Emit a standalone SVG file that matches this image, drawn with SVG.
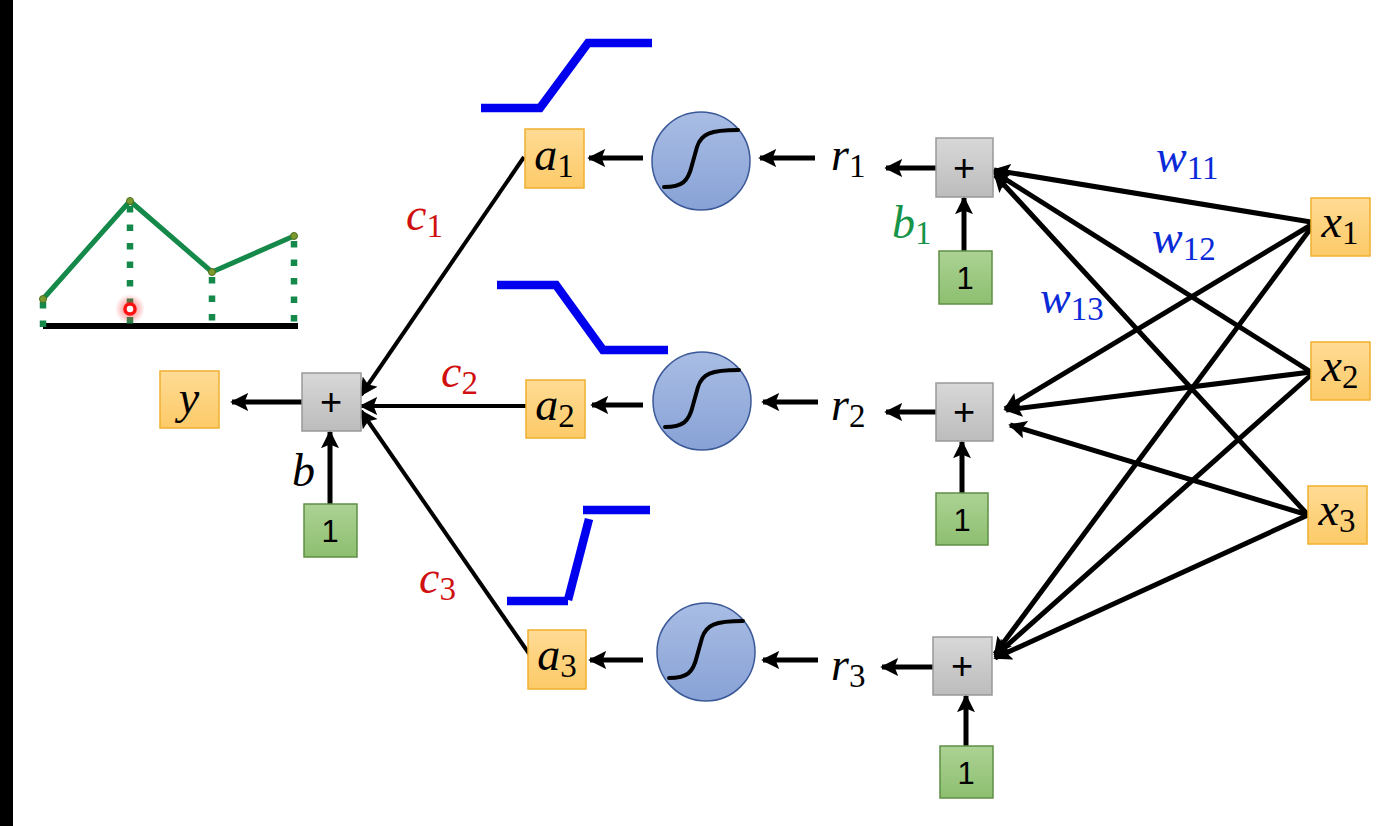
<svg xmlns="http://www.w3.org/2000/svg" width="1383" height="826" viewBox="0 0 1383 826">
<defs>
<linearGradient id="gOr" x1="0" y1="0" x2="0" y2="1"><stop offset="0" stop-color="#ffdb94"/><stop offset="1" stop-color="#fcca68"/></linearGradient>
<linearGradient id="gGr" x1="0" y1="0" x2="0" y2="1"><stop offset="0" stop-color="#d8d8d8"/><stop offset="1" stop-color="#bcbcbc"/></linearGradient>
<linearGradient id="gGn" x1="0" y1="0" x2="0" y2="1"><stop offset="0" stop-color="#acd294"/><stop offset="1" stop-color="#8dbf70"/></linearGradient>
<linearGradient id="gBl" x1="0" y1="0" x2="0" y2="1"><stop offset="0" stop-color="#a9bde4"/><stop offset="1" stop-color="#88a2d6"/></linearGradient>
<radialGradient id="glow"><stop offset="0" stop-color="#ff2020" stop-opacity="0.7"/><stop offset="1" stop-color="#ff4040" stop-opacity="0"/></radialGradient>
<marker id="ah" viewBox="0 0 10 10" refX="9" refY="5" markerWidth="18" markerHeight="18" markerUnits="userSpaceOnUse" orient="auto"><path d="M0,0 L10,5 L0,10 L2,5 z" fill="#000"/></marker>
</defs>
<style>
.or{fill:url(#gOr);stroke:#f0b030;stroke-width:1.5}
.gr{fill:url(#gGr);stroke:#999;stroke-width:1.5}
.gn{fill:url(#gGn);stroke:#5f8f45;stroke-width:1.5}
.ci{fill:url(#gBl);stroke:#3b5998;stroke-width:1.5}
.sig{fill:none;stroke:#000;stroke-width:4;stroke-linecap:round}
.var{font-family:"Liberation Serif",serif;font-style:italic;font-size:46px;fill:#000}
.sub{font-style:normal;font-size:33px}
.sym{font-family:"Liberation Sans",Arial,sans-serif;font-size:31px;fill:#000}
.plus{font-family:"Liberation Sans",Arial,sans-serif;font-size:38px;fill:#000}
.ar{stroke:#000;stroke-width:5;fill:none;marker-end:url(#ah)}
.ln{stroke:#000;stroke-width:5;fill:none;marker-end:url(#ah)}
.step{stroke:#0000ee;stroke-width:8.5;fill:none}
.gline{stroke:#14894a;stroke-width:5;fill:none;stroke-linejoin:round}
.gdash{stroke:#14894a;stroke-width:6.5;stroke-dasharray:6.5 12;fill:none}
</style>
<rect x="0" y="0" width="1383" height="826" fill="#fff"/>
<rect x="0" y="0" width="13" height="826" fill="#000"/>

<g id="chart">
<line x1="43" y1="326" x2="298" y2="326" stroke="#000" stroke-width="6"/>
<line class="gdash" x1="43" y1="302" x2="43" y2="328"/>
<line class="gdash" x1="130" y1="206" x2="130" y2="328"/>
<line class="gdash" x1="212" y1="277" x2="212" y2="328"/>
<line class="gdash" x1="294" y1="241" x2="294" y2="328"/>
<polyline class="gline" points="43,299 130,201 212,272 294,236"/>
<g fill="#7a9a30" stroke="#4e6e20" stroke-width="1"><circle cx="43" cy="299" r="3.5"/><circle cx="130" cy="201" r="3.5"/><circle cx="212" cy="272" r="3.5"/><circle cx="294" cy="236" r="3.5"/></g>
<circle cx="130" cy="309" r="15" fill="url(#glow)"/>
<circle cx="130" cy="309" r="5" fill="#fff" stroke="#ff1010" stroke-width="3.5"/>
</g>

<g id="steps">
<polyline class="step" points="481,108 540,108 588,43 652,43"/>
<polyline class="step" points="497,285 556,285 603,350 668,350"/>
<polyline class="step" points="507,601 568,601"/>
<line class="step" x1="568" y1="600" x2="589" y2="519"/>
<line class="step" x1="583" y1="510" x2="650" y2="510"/>
</g>

<g id="connectors">
<line class="ar" x1="302" y1="402" x2="232" y2="402"/>
<line class="ar" x1="330" y1="504" x2="330" y2="432"/>
<line class="ln" x1="524" y1="157" x2="361" y2="395" style="stroke-width:4"/>
<line class="ln" x1="526" y1="406" x2="361" y2="406" style="stroke-width:4"/>
<line class="ln" x1="530" y1="655" x2="361" y2="411" style="stroke-width:4"/>
<line class="ar" x1="643" y1="158" x2="589" y2="158"/>
<line class="ar" x1="643" y1="405" x2="592" y2="405"/>
<line class="ar" x1="643" y1="660" x2="590" y2="660"/>
<line class="ar" x1="815" y1="158" x2="760" y2="158"/>
<line class="ar" x1="818" y1="402" x2="763" y2="402"/>
<line class="ar" x1="818" y1="660" x2="763" y2="660"/>
<line class="ar" x1="936" y1="168" x2="886" y2="168"/>
<line class="ar" x1="936" y1="412" x2="886" y2="412"/>
<line class="ar" x1="933" y1="667" x2="882" y2="667"/>
<line class="ar" x1="964" y1="251" x2="964" y2="198"/>
<line class="ar" x1="962" y1="493" x2="962" y2="442"/>
<line class="ar" x1="966" y1="746" x2="966" y2="696"/>
<line class="ln" x1="1311" y1="222" x2="994" y2="170"/>
<line class="ln" x1="1311" y1="372" x2="994" y2="172"/>
<line class="ln" x1="1308" y1="515" x2="995" y2="175"/>
<line class="ln" x1="1311" y1="225" x2="1005" y2="409"/>
<line class="ln" x1="1311" y1="372" x2="1006" y2="410"/>
<line class="ln" x1="1308" y1="515" x2="1010" y2="425"/>
<line class="ln" x1="1311" y1="228" x2="995" y2="654"/>
<line class="ln" x1="1311" y1="375" x2="995" y2="656"/>
<line class="ln" x1="1308" y1="515" x2="995" y2="658"/>
</g>

<g id="y"><rect class="or" x="160" y="371" width="59" height="57"/><text class="var" x="189" y="413" text-anchor="middle">y</text></g>
<g id="sum"><rect class="gr" x="302" y="373" width="59" height="58"/><text class="plus" x="331" y="415" text-anchor="middle">+</text></g>
<g id="one0"><rect class="gn" x="304" y="504" width="53" height="53"/><text class="sym" x="330" y="542" text-anchor="middle">1</text></g>
<text class="var" x="292" y="486">b</text>

<g id="a1"><rect class="or" x="525" y="129" width="59" height="59"/><text class="var" x="554" y="170" text-anchor="middle">a<tspan class="sub" dy="7">1</tspan></text></g>
<g id="a2"><rect class="or" x="526" y="380" width="59" height="58"/><text class="var" x="555" y="420" text-anchor="middle">a<tspan class="sub" dy="7">2</tspan></text></g>
<g id="a3"><rect class="or" x="528" y="630" width="58" height="59"/><text class="var" x="557" y="670" text-anchor="middle">a<tspan class="sub" dy="7">3</tspan></text></g>

<g id="s1"><circle class="ci" cx="701" cy="161" r="49"/><path class="sig" d="M664,187 C682,187 688,182 692,165 L697,147 C701,134 710,130 738,130"/></g>
<g id="s2"><circle class="ci" cx="702" cy="401" r="49"/><path class="sig" d="M665,427 C683,427 689,422 693,405 L698,387 C702,374 711,370 739,370"/></g>
<g id="s3"><circle class="ci" cx="706" cy="652" r="49"/><path class="sig" d="M669,678 C687,678 693,673 697,656 L702,638 C706,625 715,621 743,621"/></g>

<text class="var" x="831" y="170">r<tspan class="sub" dy="7">1</tspan></text>
<text class="var" x="831" y="420">r<tspan class="sub" dy="7">2</tspan></text>
<text class="var" x="831" y="680">r<tspan class="sub" dy="7">3</tspan></text>

<g id="p1"><rect class="gr" x="936" y="138" width="57" height="59"/><text class="plus" x="964" y="181" text-anchor="middle">+</text></g>
<g id="p2"><rect class="gr" x="936" y="383" width="57" height="58"/><text class="plus" x="964" y="425" text-anchor="middle">+</text></g>
<g id="p3"><rect class="gr" x="933" y="637" width="59" height="58"/><text class="plus" x="962" y="679" text-anchor="middle">+</text></g>

<g id="one1"><rect class="gn" x="939" y="251" width="53" height="53"/><text class="sym" x="965" y="289" text-anchor="middle">1</text></g>
<g id="one2"><rect class="gn" x="936" y="493" width="52" height="52"/><text class="sym" x="962" y="531" text-anchor="middle">1</text></g>
<g id="one3"><rect class="gn" x="940" y="746" width="53" height="52"/><text class="sym" x="966" y="784" text-anchor="middle">1</text></g>

<text class="var" x="892" y="238" style="fill:#16944a">b<tspan class="sub" dy="6">1</tspan></text>

<g id="x1"><rect class="or" x="1311" y="198" width="59" height="58"/><text class="var" x="1340" y="237" text-anchor="middle">x<tspan class="sub" dy="7">1</tspan></text></g>
<g id="x2"><rect class="or" x="1311" y="342" width="59" height="58"/><text class="var" x="1340" y="381" text-anchor="middle">x<tspan class="sub" dy="7">2</tspan></text></g>
<g id="x3"><rect class="or" x="1308" y="486" width="59" height="58"/><text class="var" x="1337" y="525" text-anchor="middle">x<tspan class="sub" dy="7">3</tspan></text></g>

<text class="var" x="1156" y="172" style="fill:#0a2ad8">w<tspan class="sub" dy="7">11</tspan></text>
<text class="var" x="1152" y="253" style="fill:#0a2ad8">w<tspan class="sub" dy="7">12</tspan></text>
<text class="var" x="1040" y="313" style="fill:#0a2ad8">w<tspan class="sub" dy="7">13</tspan></text>
<text class="var" x="406" y="230" style="fill:#d01010">c<tspan class="sub" dy="7">1</tspan></text>
<text class="var" x="441" y="387" style="fill:#d01010">c<tspan class="sub" dy="7">2</tspan></text>
<text class="var" x="419" y="593" style="fill:#d01010">c<tspan class="sub" dy="7">3</tspan></text>
</svg>
